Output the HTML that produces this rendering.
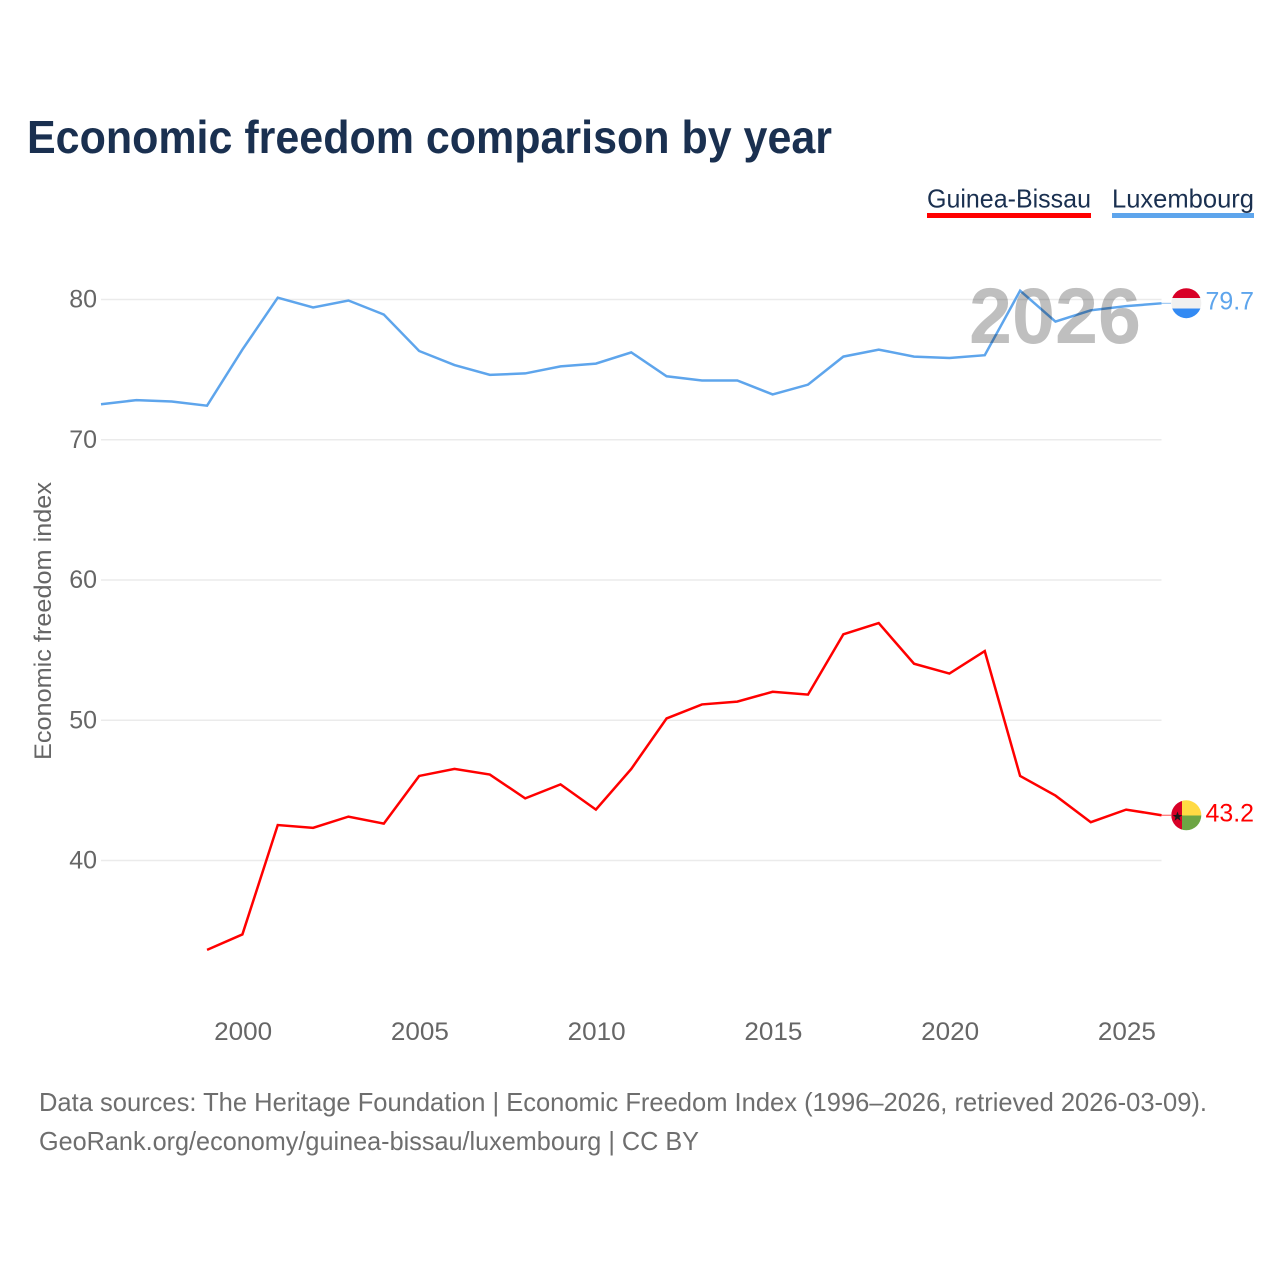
<!DOCTYPE html>
<html lang="en">
<head>
<meta charset="utf-8">
<title>Economic freedom comparison by year</title>
<style>
html,body{margin:0;padding:0;background:#fff;width:1280px;height:1280px;overflow:hidden}
svg{display:block;font-family:"Liberation Sans",sans-serif}
</style>
</head>
<body>
<svg id="chart" xmlns="http://www.w3.org/2000/svg" width="1280" height="1280" viewBox="0 0 1280 1280">
  <rect width="1280" height="1280" fill="#ffffff"/>
  <text x="27" y="153" font-size="46" font-weight="700" fill="#1a3050" textLength="805" lengthAdjust="spacingAndGlyphs">Economic freedom comparison by year</text>

  <g>
    <g>
      <text x="927" y="207.5" font-size="26" fill="#1a3050" textLength="164" lengthAdjust="spacingAndGlyphs">Guinea-Bissau</text>
      <rect x="927" y="213" width="164" height="5" fill="#ff0000"/>
    </g>
    <g>
      <text x="1112" y="207.5" font-size="26" fill="#1a3050" textLength="142" lengthAdjust="spacingAndGlyphs">Luxembourg</text>
      <rect x="1112" y="213" width="142" height="5" fill="#5ea5ec"/>
    </g>
  </g>

  <g id="grid"></g>
  <g id="y-ticks"></g>
  <g id="x-ticks"></g>
  <text transform="translate(51,621) rotate(-90)" text-anchor="middle" font-size="24" fill="#666666" textLength="278" lengthAdjust="spacingAndGlyphs">Economic freedom index</text>

  <g id="series"></g>

  <text x="969" y="343" font-size="79" font-weight="700" fill="#000000" fill-opacity="0.25" textLength="172" lengthAdjust="spacingAndGlyphs">2026</text>

  <g>
    <clipPath id="clip-lu"><circle cx="1186.3" cy="303.2" r="15"/></clipPath>
    <g clip-path="url(#clip-lu)">
      <rect x="1171" y="288" width="31" height="10" fill="#d80027"/>
      <rect x="1171" y="298" width="31" height="10.5" fill="#f0f0f0"/>
      <rect x="1171" y="308.5" width="31" height="10" fill="#338af3"/>
    </g>
  </g>
  <text id="end-label-lu" x="1205.5" y="309.5" font-size="25" fill="#5ea5ec" textLength="48.5" lengthAdjust="spacingAndGlyphs">79.7</text>

  <g>
    <clipPath id="clip-gw"><circle cx="1186.3" cy="815.3" r="15"/></clipPath>
    <g clip-path="url(#clip-gw)">
      <rect x="1171" y="800" width="11" height="31" fill="#d80027"/>
      <rect x="1182" y="800" width="20" height="15.5" fill="#ffda44"/>
      <rect x="1182" y="815.5" width="20" height="15.5" fill="#6da544"/>
      <polygon points="1177.5,811.5 1178.8,815 1182.3,815 1179.5,817.2 1180.5,820.7 1177.5,818.6 1174.5,820.7 1175.5,817.2 1172.7,815 1176.2,815" fill="#1a1a1a"/>
    </g>
  </g>
  <text id="end-label-gw" x="1205.5" y="821.5" font-size="25" fill="#ff0000" textLength="48.5" lengthAdjust="spacingAndGlyphs">43.2</text>

  <text x="39" y="1111" font-size="26" fill="#6e6e6e" textLength="1168" lengthAdjust="spacingAndGlyphs">Data sources: The Heritage Foundation | Economic Freedom Index (1996–2026, retrieved 2026-03-09).</text>
  <text x="39" y="1150" font-size="26" fill="#6e6e6e" textLength="660" lengthAdjust="spacingAndGlyphs">GeoRank.org/economy/guinea-bissau/luxembourg | CC BY</text>
</svg>

<script>
const years = [1996,1997,1998,1999,2000,2001,2002,2003,2004,2005,2006,2007,2008,2009,2010,2011,2012,2013,2014,2015,2016,2017,2018,2019,2020,2021,2022,2023,2024,2025,2026];
const luxembourg = [72.5,72.8,72.7,72.4,76.4,80.1,79.4,79.9,78.9,76.3,75.3,74.6,74.7,75.2,75.4,76.2,74.5,74.2,74.2,73.2,73.9,75.9,76.4,75.9,75.8,76.0,80.6,78.4,79.2,79.5,79.7];
const guineaBissau = [null,null,null,33.6,34.7,42.5,42.3,43.1,42.6,46.0,46.5,46.1,44.4,45.4,43.6,46.5,50.1,51.1,51.3,52.0,51.8,56.1,56.9,54.0,53.3,54.9,46.0,44.6,42.7,43.6,43.2];
const yTicks = [40,50,60,70,80];
const xTicks = [2000,2005,2010,2015,2020,2025];

const NS = 'http://www.w3.org/2000/svg';
const xScale = function (year) { return 101 + (year - 1996) * (1161.5 - 101) / (2026 - 1996); };
const yScale = function (value) { return 299.1 + (80 - value) * (860.1 - 299.1) / (80 - 40); };

const gridGroup = document.getElementById('grid');
const yTickGroup = document.getElementById('y-ticks');
const xTickGroup = document.getElementById('x-ticks');
const seriesGroup = document.getElementById('series');

yTicks.forEach(function (tick) {
  const line = document.createElementNS(NS, 'line');
  
  
  line.setAttribute('x1', 101);
  line.setAttribute('x2', 1161.5);
  line.setAttribute('y1', yScale(tick) + 0.4);
  line.setAttribute('y2', yScale(tick) + 0.4);
  line.setAttribute('stroke', '#ebebeb');
  line.setAttribute('stroke-width', 1.6);
  gridGroup.appendChild(line);

  const label = document.createElementNS(NS, 'text');
  
  
  label.setAttribute('x', 97);
  label.setAttribute('y', yScale(tick) + 8.5);
  label.setAttribute('text-anchor', 'end');
  label.setAttribute('font-size', 25);
  label.setAttribute('fill', '#666666');
  label.textContent = tick;
  yTickGroup.appendChild(label);
});

xTicks.forEach(function (tick) {
  const label = document.createElementNS(NS, 'text');
  
  
  label.setAttribute('x', xScale(tick) + 0.7);
  label.setAttribute('y', 1040);
  label.setAttribute('text-anchor', 'middle');
  label.setAttribute('font-size', 25);
  label.setAttribute('fill', '#666666');
  label.setAttribute('textLength', 58);
  label.setAttribute('lengthAdjust', 'spacingAndGlyphs');
  label.textContent = tick;
  xTickGroup.appendChild(label);
});

function drawSeries(values, name, color) {
  let d = '';
  let lastY = 0;
  values.forEach(function (value, i) {
    if (value === null) return;
    lastY = yScale(value);
    d += (d ? 'L' : 'M') + xScale(years[i]).toFixed(2) + ' ' + lastY.toFixed(2);
  });
  const path = document.createElementNS(NS, 'path');
  
  
  path.setAttribute('d', d);
  path.setAttribute('fill', 'none');
  path.setAttribute('stroke', color);
  path.setAttribute('stroke-width', 2.5);
  path.setAttribute('stroke-linejoin', 'miter');
  seriesGroup.appendChild(path);

  const connector = document.createElementNS(NS, 'line');
  
  
  connector.setAttribute('x1', 1161.5);
  connector.setAttribute('x2', 1171);
  connector.setAttribute('y1', lastY);
  connector.setAttribute('y2', lastY);
  connector.setAttribute('stroke', color);
  connector.setAttribute('stroke-opacity', 0.7);
  connector.setAttribute('stroke-width', 1);
  seriesGroup.appendChild(connector);
}

drawSeries(luxembourg, 'luxembourg', '#5ea5ec');
drawSeries(guineaBissau, 'guinea-bissau', '#ff0000');
</script>
</body>
</html>
